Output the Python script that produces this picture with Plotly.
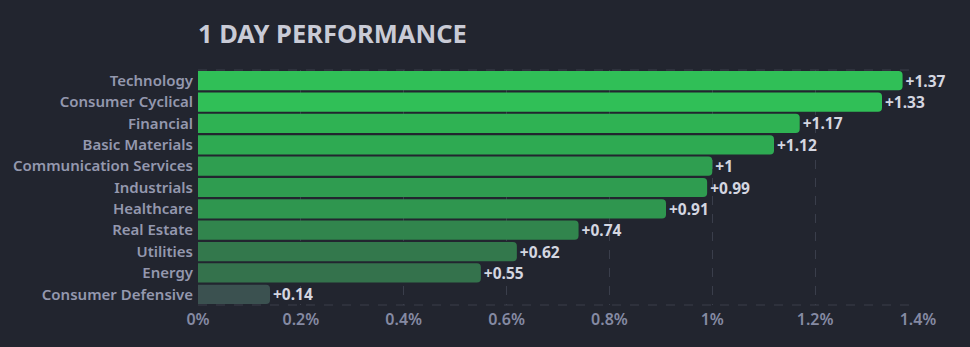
import plotly.graph_objects as go

sectors = ["Technology", "Consumer Cyclical", "Financial", "Basic Materials",
           "Communication Services", "Industrials", "Healthcare", "Real Estate",
           "Utilities", "Energy", "Consumer Defensive"]
changes = [1.37, 1.33, 1.17, 1.12, 1.00, 0.99, 0.91, 0.74, 0.62, 0.55, 0.14]
bar_colors = ["#30bf57", "#30bf57", "#2fb253", "#2eaa52", "#2f9e50", "#2f9c50",
              "#2f964f", "#31854d", "#33784c", "#34724c", "#3b5150"]
tick_vals = [0, 0.2, 0.4, 0.6, 0.8, 1.0, 1.2, 1.4]
tick_text = ["0%", "0.2%", "0.4%", "0.6%", "0.8%", "1%", "1.2%", "1.4%"]
labels = ["+" + f"{v:g}" for v in changes]

BG = "#22252f"
FONT = "Noto Sans"

fig = go.Figure(go.Bar(
    x=changes, y=sectors, orientation="h",
    marker=dict(color=bar_colors, line=dict(width=0)),
    text=labels, textposition="outside", cliponaxis=False, constraintext="none",
    textfont=dict(family=FONT, size=15.5, color="#d4d6e0", weight="bold"),
    hoverinfo="skip",
))

fig.update_layout(
    width=970, height=347,
    paper_bgcolor=BG, plot_bgcolor=BG,
    margin=dict(l=198, r=52, t=70, b=42),
    bargap=0.1, barcornerradius=4,
    showlegend=False,
    title=dict(text="1 DAY PERFORMANCE", x=198/970, xanchor="left",
               y=1 - 34/347, yanchor="middle",
               font=dict(family=FONT, size=25.5, color="#c9cbd6", weight="bold")),
    xaxis=dict(range=[0, 1.4], tickvals=tick_vals, ticktext=tick_text,
               showgrid=True, gridcolor="#3a3e4b", griddash="dash", gridwidth=1,
               zeroline=False, showline=False, ticks="", ticklabelstandoff=3,
               tickfont=dict(family=FONT, size=16, color="#858aa3", weight=600)),
    yaxis=dict(autorange="reversed", showgrid=False, zeroline=False,
               ticks="", ticklabelstandoff=4,
               tickfont=dict(family=FONT, size=15, color="#9498ae", weight=600)),
    shapes=[
        dict(type="line", xref="paper", yref="paper", x0=0, x1=1, y0=1, y1=1,
             line=dict(color="#3a3e4b", width=1, dash="dash"), layer="below"),
        dict(type="line", xref="paper", yref="paper", x0=0, x1=1, y0=0, y1=0,
             line=dict(color="#3a3e4b", width=1, dash="dash"), layer="below"),
    ],
)

fig.write_html("out.html")
